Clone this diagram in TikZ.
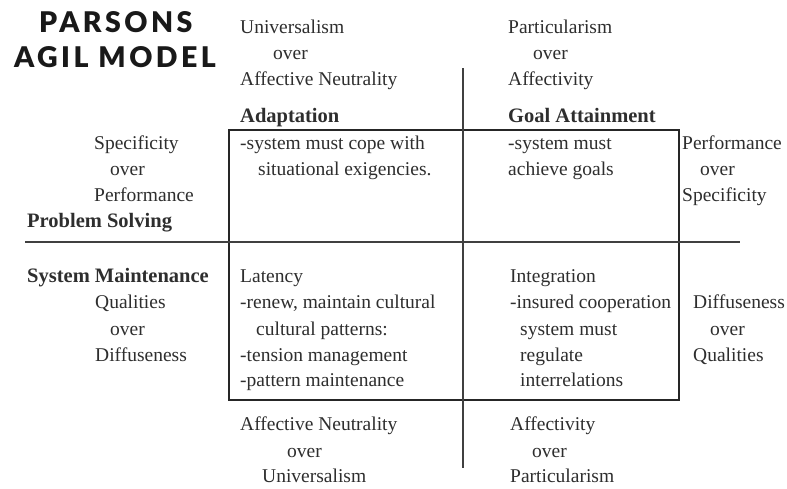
\documentclass[tikz,border=0pt]{standalone}
\usepackage{fontspec}
\setmainfont{Liberation Serif}
\newfontfamily\titlefont{Lato}[UprightFont={* Black}, LetterSpace=12]
\begin{document}
\begin{tikzpicture}[x=1pt,y=-1pt,
  txt/.style={inner sep=0pt, anchor=base west, text=black!82,
    font=\fontsize{19.5}{24}\selectfont},
  hd/.style={txt, font=\fontsize{20.5}{24}\selectfont\bfseries},
  ttl/.style={inner sep=0pt, anchor=base west, text=black!90,
    font=\titlefont\fontsize{28.5}{30}\selectfont},
  frame/.style={draw=black!85, line width=2pt},
  axis/.style={draw=black!75, line width=1.8pt}]
\useasboundingbox[fill=white] (0,0) rectangle (787,488);

% title
\node[ttl] (t1) at (39,32) {PARSONS};
\node[ttl] (t2) at (14,67) {AGIL MODEL};

% frame and axes
\coordinate (fa) at (229,130);
\coordinate (fb) at (679,400);
\draw[frame] (fa) rectangle (fb);
\coordinate (vt) at (463,68);
\coordinate (vb) at (463,468);
\draw[axis] (vt) -- (vb);
\coordinate (hl) at (25,242);
\coordinate (hr) at (740,242);
\draw[axis] (hl) -- (hr);

% top pattern variables
\node[txt] (a1) at (240,33) {Universalism};
\node[txt] (a2) at (273,59) {over};
\node[txt] (a3) at (240,85) {Affective Neutrality};
\node[txt] (b1) at (508,33) {Particularism};
\node[txt] (b2) at (533,59) {over};
\node[txt] (b3) at (508,85) {Affectivity};

% adaptation
\node[hd] (ah) at (240,122) {Adaptation};
\node[txt] (ax1) at (240,149) {-system must cope with};
\node[txt] (ax2) at (258,175) {situational exigencies.};

% goal attainment
\node[hd] (gh) at (508,122) {Goal Attainment};
\node[txt] (gx1) at (508,149) {-system must};
\node[txt] (gx2) at (508,175) {achieve goals};

% left side, upper
\node[txt] (l1) at (94,149) {Specificity};
\node[txt] (l2) at (110,175) {over};
\node[txt] (l3) at (94,201) {Performance};
\node[hd] (ps) at (27,227) {Problem Solving};

% right side, upper
\node[txt] (r1) at (682,149) {Performance};
\node[txt] (r2) at (700,175) {over};
\node[txt] (r3) at (682,201) {Specificity};

% left side, lower
\node[hd] (sm) at (27,282) {System Maintenance};
\node[txt] (l4) at (95,308) {Qualities};
\node[txt] (l5) at (110,335) {over};
\node[txt] (l6) at (95,361) {Diffuseness};

% latency
\node[txt] (lh) at (240,282) {Latency};
\node[txt] (lx1) at (240,308) {-renew, maintain cultural};
\node[txt] (lx2) at (256,335) {cultural patterns:};
\node[txt] (lx3) at (240,361) {-tension management};
\node[txt] (lx4) at (240,386) {-pattern maintenance};

% integration
\node[txt] (ih) at (510,282) {Integration};
\node[txt] (ix1) at (510,308) {-insured cooperation};
\node[txt] (ix2) at (520,335) {system must};
\node[txt] (ix3) at (520,361) {regulate};
\node[txt] (ix4) at (520,386) {interrelations};

% right side, lower
\node[txt] (r4) at (693,308) {Diffuseness};
\node[txt] (r5) at (710,335) {over};
\node[txt] (r6) at (693,361) {Qualities};

% bottom pattern variables
\node[txt] (c1) at (240,430) {Affective Neutrality};
\node[txt] (c2) at (287,457) {over};
\node[txt] (c3) at (262,482) {Universalism};
\node[txt] (d1) at (510,430) {Affectivity};
\node[txt] (d2) at (532,457) {over};
\node[txt] (d3) at (510,482) {Particularism};
\end{tikzpicture}
\end{document}
